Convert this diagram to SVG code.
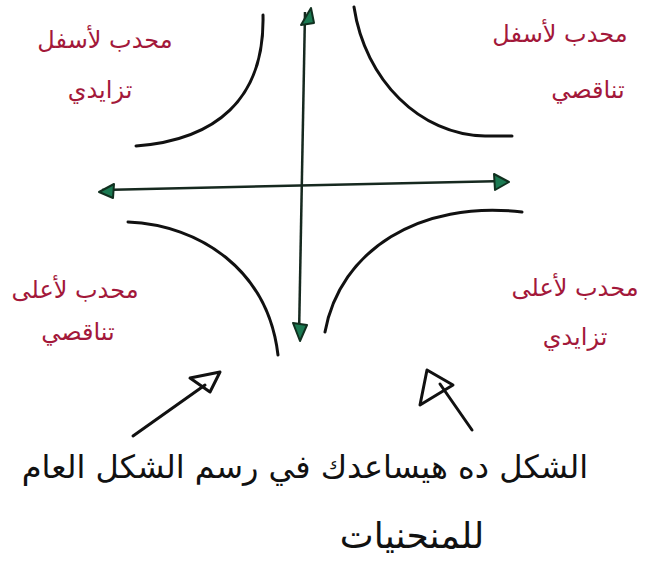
<svg xmlns="http://www.w3.org/2000/svg" width="670" height="573" viewBox="0 0 670 573">
<defs>
<style>
.curve{fill:none;stroke:#111;stroke-width:3;stroke-linecap:round}
.axis{fill:none;stroke:#16291f;stroke-width:2.5}
.head{fill:#1b7a52;stroke:#10301f;stroke-width:2;stroke-linejoin:round}
.lbl{font-family:"DejaVu Sans",sans-serif;fill:#a3183a;font-size:24px;text-anchor:middle}
.note{font-family:"DejaVu Sans",sans-serif;fill:#111;font-size:32px;text-anchor:middle}
.ptr{fill:none;stroke:#111;stroke-width:3;stroke-linecap:round;stroke-linejoin:round}
</style>
</defs>
<rect width="670" height="573" fill="#fff"/>
<g id="connectors">
<line class="axis" x1="305" y1="12" x2="299" y2="336"/>
<line class="axis" x1="102" y1="190" x2="506" y2="181"/>
<polygon class="head" points="311,8 301,25 314,23"/>
<polygon class="head" points="99,192 114,184 113,198"/>
<polygon class="head" points="509,182 494,174 495,190"/>
<polygon class="head" points="300,341 293,323 307,325"/>
<path class="ptr" d="M133,436 L205,385"/>
<polygon class="ptr" points="190,378 220,372 210,392"/>
<path class="ptr" d="M472,430 L440,384"/>
<polygon class="ptr" points="427,370 453,385 420,405"/>
</g>
<g id="curve-tl"><path class="curve" d="M263,15 C265,100 215,140 136,146"/></g>
<g id="curve-tr"><path class="curve" d="M354,7 C365,80 420,135 485,136 L512,136"/></g>
<g id="curve-bl"><path class="curve" d="M128,222 C200,225 268,270 278,355"/></g>
<g id="curve-br"><path class="curve" d="M522,212 C420,200 340,250 325,332"/></g>
<g id="label-tl"><text class="lbl" x="105" y="48">محدب لأسفل</text><text class="lbl" x="100" y="98">تزايدي</text></g>
<g id="label-tr"><text class="lbl" x="560" y="42">محدب لأسفل</text><text class="lbl" x="588" y="98">تناقصي</text></g>
<g id="label-bl"><text class="lbl" x="75" y="298">محدب لأعلى</text><text class="lbl" x="78" y="340">تناقصي</text></g>
<g id="label-br"><text class="lbl" x="575" y="296">محدب لأعلى</text><text class="lbl" x="575" y="345">تزايدي</text></g>
<g id="note"><text class="note" x="305" y="478">الشكل ده هيساعدك في رسم الشكل العام</text><text class="note" x="412" y="548" style="font-size:36px">للمنحنيات</text></g>
</svg>
